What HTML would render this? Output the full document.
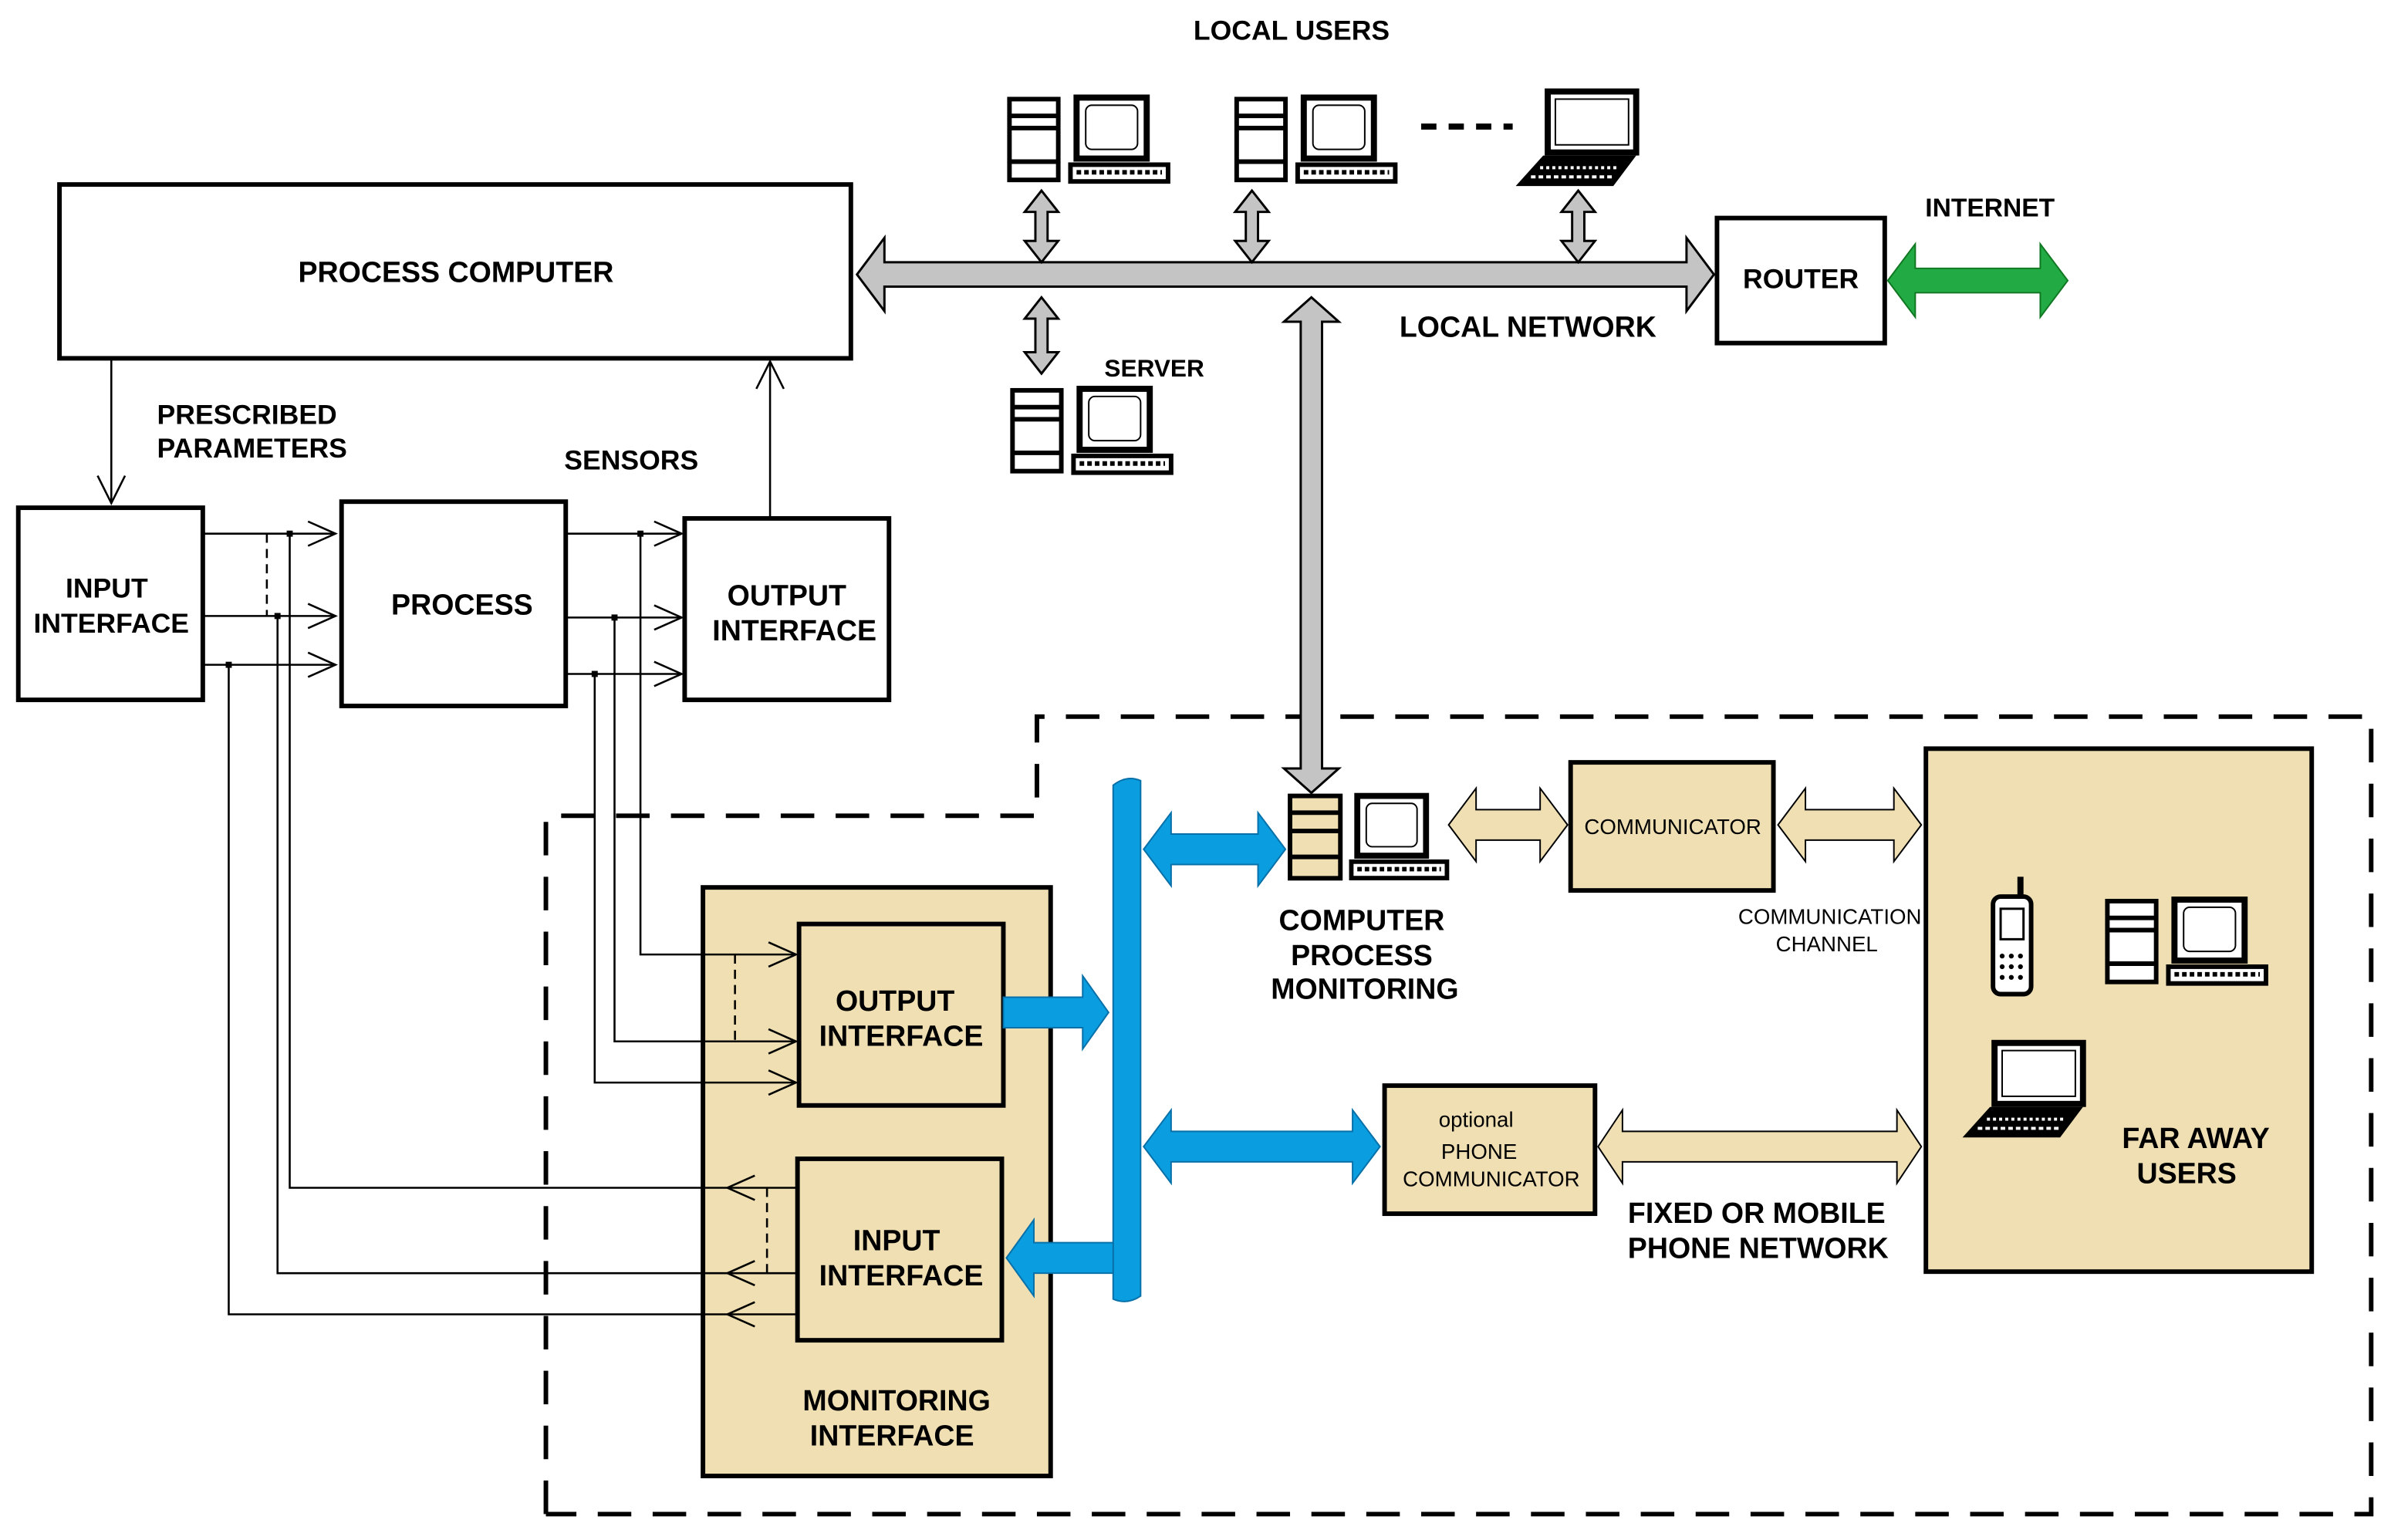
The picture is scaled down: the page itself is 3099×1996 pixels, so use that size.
<!DOCTYPE html>
<html><head><meta charset="utf-8"><style>
html,body{margin:0;padding:0;background:#fff;}
svg{display:block;}
text{font-family:"Liberation Sans",sans-serif;font-weight:bold;fill:#000;}
</style></head><body>
<svg width="3099" height="1996" viewBox="0 0 1568 1010" preserveAspectRatio="none" xmlns="http://www.w3.org/2000/svg">
<defs>
<symbol id="pc" overflow="visible">
<rect x="1" y="1" width="32" height="53" fill="#fff" stroke="#000" stroke-width="3"/>
<line x1="1" y1="12" x2="33" y2="12" stroke="#000" stroke-width="3"/>
<line x1="1" y1="20" x2="33" y2="20" stroke="#000" stroke-width="3"/>
<line x1="1" y1="42" x2="33" y2="42" stroke="#000" stroke-width="3"/>
<rect x="45" y="0" width="46" height="40" fill="#fff" stroke="#000" stroke-width="4"/>
<rect x="51" y="5" width="34" height="29" rx="4" fill="none" stroke="#000" stroke-width="1"/>
<rect x="41" y="44" width="64" height="11" fill="#fff" stroke="#000" stroke-width="3"/>
<line x1="45" y1="49" x2="101" y2="49" stroke="#000" stroke-width="3" stroke-dasharray="3 2"/>
</symbol>
<symbol id="lap" overflow="visible">
<rect x="25" y="0" width="58" height="40" fill="#fff" stroke="#000" stroke-width="4"/>
<rect x="30" y="5" width="48" height="30" fill="none" stroke="#000" stroke-width="1"/>
<polygon points="22,42 83,42 68,62 4,62" fill="#000"/>
<line x1="20" y1="50" x2="72" y2="50" stroke="#fff" stroke-width="2" stroke-dasharray="2 2"/>
<line x1="14" y1="56" x2="68" y2="56" stroke="#fff" stroke-width="2" stroke-dasharray="3 2"/>
</symbol>
</defs>
<g stroke="#000" stroke-width="3" fill="#fff">
<rect x="39" y="121" width="519" height="114"/>
<rect x="12" y="333" width="121" height="126"/>
<rect x="224" y="329" width="147" height="134"/>
<rect x="449" y="340" width="134" height="119"/>
<rect x="1126" y="143" width="110" height="82"/>
</g>
<text x="299" y="185" font-size="19" text-anchor="middle">PROCESS COMPUTER</text>
<text x="70" y="392" font-size="18" text-anchor="middle">INPUT</text>
<text x="73" y="415" font-size="18" text-anchor="middle">INTERFACE</text>
<text x="303" y="403" font-size="19" text-anchor="middle">PROCESS</text>
<text x="516" y="397" font-size="19" text-anchor="middle">OUTPUT</text>
<text x="521" y="420" font-size="19" text-anchor="middle">INTERFACE</text>
<text x="1181" y="189" font-size="18" text-anchor="middle">ROUTER</text>
<text x="847" y="26" font-size="18" text-anchor="middle">LOCAL USERS</text>
<text x="1305" y="142" font-size="17" text-anchor="middle">INTERNET</text>
<text x="1002" y="221" font-size="19" text-anchor="middle">LOCAL NETWORK</text>
<text x="757" y="247" font-size="16" text-anchor="middle">SERVER</text>
<text x="103" y="278" font-size="18">PRESCRIBED</text>
<text x="103" y="300" font-size="18">PARAMETERS</text>
<text x="414" y="308" font-size="18" text-anchor="middle">SENSORS</text>
<polyline points="358,993 358,535 680,535 680,470 1555,470 1555,993 358,993" fill="none" stroke="#000" stroke-width="3" stroke-dasharray="22 14"/>
<g fill="#c4c4c4" stroke="#000" stroke-width="1.5">
<polygon points="562,180 580,156 580,172 1106,172 1106,156 1124,180 1106,204 1106,188 580,188 580,204"/>
<polygon points="683,125 694,139 687,139 687,158 694,158 683,172 672,158 679,158 679,139 672,139"/>
<polygon points="821,125 832,139 825,139 825,158 832,158 821,172 810,158 817,158 817,139 810,139"/>
<polygon points="1035,125 1046,139 1039,139 1039,158 1046,158 1035,172 1024,158 1031,158 1031,139 1024,139"/>
<polygon points="683,195 694,209 687,209 687,231 694,231 683,245 672,231 679,231 679,209 672,209"/>
<polygon points="860,195 878,211 867,211 867,504 878,504 860,520 842,504 853,504 853,211 842,211"/>
</g>
<polygon points="1238,184 1256,160 1256,176 1338,176 1338,160 1356,184 1338,208 1338,192 1256,192 1256,208" fill="#22aa44" stroke="#117722" stroke-width="1"/>
<line x1="932" y1="83" x2="992" y2="83" stroke="#000" stroke-width="4" stroke-dasharray="10 8"/>
<use href="#pc" x="661" y="64"/>
<use href="#pc" x="810" y="64"/>
<use href="#lap" x="990" y="60"/>
<use href="#pc" x="663" y="255"/>
<!-- monitoring interface (drawn before lines) -->
<rect x="461" y="582" width="228" height="386" fill="#efdfb3" stroke="#000" stroke-width="3"/>
<rect x="524" y="606" width="134" height="119" fill="#efdfb3" stroke="#000" stroke-width="3"/>
<rect x="523" y="760" width="134" height="119" fill="#efdfb3" stroke="#000" stroke-width="3"/>
<g stroke="#000" stroke-width="1.3" fill="none">
<line x1="73" y1="235" x2="73" y2="330"/><polyline points="64,312 73,330 82,312"/>
<line x1="505" y1="340" x2="505" y2="237"/><polyline points="496,255 505,237 514,255"/>
<line x1="133" y1="350" x2="220" y2="350"/><polyline points="202,342 220,350 202,358"/>
<line x1="133" y1="404" x2="220" y2="404"/><polyline points="202,396 220,404 202,412"/>
<line x1="133" y1="436" x2="220" y2="436"/><polyline points="202,428 220,436 202,444"/>
<line x1="175" y1="350" x2="175" y2="404" stroke-dasharray="6 4"/>
<polyline points="190,350 190,779 523,779"/>
<polyline points="182,404 182,835 523,835"/>
<polyline points="150,436 150,862 523,862"/>
<polyline points="495,771 477,779 495,787"/>
<polyline points="495,827 477,835 495,843"/>
<polyline points="495,854 477,862 495,870"/>
<line x1="371" y1="350" x2="447" y2="350"/><polyline points="429,342 447,350 429,358"/>
<line x1="371" y1="405" x2="447" y2="405"/><polyline points="429,397 447,405 429,413"/>
<line x1="371" y1="442" x2="447" y2="442"/><polyline points="429,434 447,442 429,450"/>
<polyline points="420,350 420,626 522,626"/>
<polyline points="403,405 403,683 522,683"/>
<polyline points="390,442 390,710 522,710"/>
<polyline points="504,618 522,626 504,634"/>
<polyline points="504,675 522,683 504,691"/>
<polyline points="504,702 522,710 504,718"/>
<line x1="482" y1="626" x2="482" y2="683" stroke-dasharray="6 4"/>
<line x1="503" y1="779" x2="503" y2="835" stroke-dasharray="6 4"/>
</g>
<g fill="#000"><rect x="188" y="348" width="4" height="4"/><rect x="180" y="402" width="4" height="4"/><rect x="148" y="434" width="4" height="4"/><rect x="418" y="348" width="4" height="4"/><rect x="401" y="403" width="4" height="4"/><rect x="388" y="440" width="4" height="4"/></g>
<text x="587" y="663" font-size="19" text-anchor="middle">OUTPUT</text>
<text x="591" y="686" font-size="19" text-anchor="middle">INTERFACE</text>
<text x="588" y="820" font-size="19" text-anchor="middle">INPUT</text>
<text x="591" y="843" font-size="19" text-anchor="middle">INTERFACE</text>
<text x="588" y="925" font-size="19" text-anchor="middle">MONITORING</text>
<text x="585" y="948" font-size="19" text-anchor="middle">INTERFACE</text>
<g fill="#0a9ee0" stroke="#0870a8" stroke-width="1">
<path d="M730,515 Q739,508 748,512 L748,850 Q739,856 730,852 Z"/>
<polygon points="658,654 710,654 710,640 727,664 710,688 710,674 658,674"/>
<polygon points="730,815 678,815 678,800 660,825 678,850 678,835 730,835"/>
<polygon points="750,557 768,533 768,547 825,547 825,533 843,557 825,581 825,567 768,567 768,581"/>
<polygon points="750,752 768,728 768,742 887,742 887,728 905,752 887,776 887,762 768,762 768,776"/>
</g>
<g fill="#efdfb3" stroke="#000" stroke-width="1">
<polygon points="950,541 968,517 968,531 1010,531 1010,517 1028,541 1010,565 1010,551 968,551 968,565"/>
<polygon points="1166,541 1184,517 1184,531 1242,531 1242,517 1260,541 1242,565 1242,551 1184,551 1184,565"/>
<polygon points="1048,752 1064,728 1064,742 1244,742 1244,728 1260,752 1244,776 1244,762 1064,762 1064,776"/>
</g>
<g transform="translate(846,522) scale(0.98)"><use href="#pc" x="0" y="0"/></g>
<rect x="846" y="522" width="33" height="54" fill="#efdfb3" stroke="#000" stroke-width="3"/>
<g stroke="#000" stroke-width="3"><line x1="846" y1="533" x2="879" y2="533"/><line x1="846" y1="545" x2="879" y2="545"/><line x1="846" y1="562" x2="879" y2="562"/></g>
<rect x="1030" y="500" width="133" height="84" fill="#efdfb3" stroke="#000" stroke-width="3"/>
<text x="1097" y="547" font-size="14" text-anchor="middle" style="font-weight:normal">COMMUNICATOR</text>
<rect x="908" y="712" width="138" height="84" fill="#efdfb3" stroke="#000" stroke-width="3"/>
<text x="968" y="739" font-size="14" text-anchor="middle" style="font-weight:normal">optional</text>
<text x="970" y="760" font-size="14" text-anchor="middle" style="font-weight:normal">PHONE</text>
<text x="978" y="778" font-size="14" text-anchor="middle" style="font-weight:normal">COMMUNICATOR</text>
<text x="893" y="610" font-size="19" text-anchor="middle">COMPUTER</text>
<text x="893" y="633" font-size="19" text-anchor="middle">PROCESS</text>
<text x="895" y="655" font-size="19" text-anchor="middle">MONITORING</text>
<text x="1200" y="606" font-size="14" text-anchor="middle" style="font-weight:normal">COMMUNICATION</text>
<text x="1198" y="624" font-size="14" text-anchor="middle" style="font-weight:normal">CHANNEL</text>
<text x="1152" y="802" font-size="19" text-anchor="middle">FIXED OR MOBILE</text>
<text x="1153" y="825" font-size="19" text-anchor="middle">PHONE NETWORK</text>
<rect x="1263" y="491" width="253" height="343" fill="#efdfb3" stroke="#000" stroke-width="3"/>
<text x="1440" y="753" font-size="19" text-anchor="middle">FAR AWAY</text>
<text x="1434" y="776" font-size="19" text-anchor="middle">USERS</text>
<rect x="1307" y="588" width="25" height="64" rx="5" fill="#fff" stroke="#000" stroke-width="3"/>
<line x1="1325" y1="575" x2="1325" y2="588" stroke="#000" stroke-width="4"/>
<rect x="1312" y="596" width="15" height="20" fill="none" stroke="#000" stroke-width="1.5"/>
<g fill="#000"><circle cx="1313" cy="627" r="1.6"/><circle cx="1319" cy="627" r="1.6"/><circle cx="1325" cy="627" r="1.6"/><circle cx="1313" cy="634" r="1.6"/><circle cx="1319" cy="634" r="1.6"/><circle cx="1325" cy="634" r="1.6"/><circle cx="1313" cy="641" r="1.6"/><circle cx="1319" cy="641" r="1.6"/><circle cx="1325" cy="641" r="1.6"/></g>
<use href="#pc" x="1381" y="590"/>
<use href="#lap" x="1283" y="684"/>
</svg>
</body></html>
